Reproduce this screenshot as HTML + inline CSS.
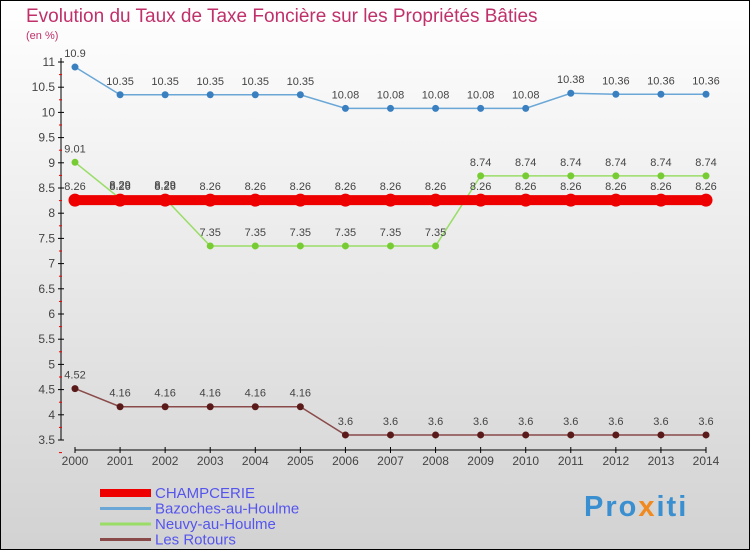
<!DOCTYPE html>
<html><head><meta charset="utf-8"><style>
body{margin:0}
#c{width:750px;height:550px;font-family:"Liberation Sans",sans-serif}
</style></head><body>
<div id="c">
<svg id="s" width="750" height="550" xmlns="http://www.w3.org/2000/svg">
<defs><linearGradient id="bg" x1="0" y1="0" x2="0" y2="1"><stop offset="0" stop-color="#ffffff"/><stop offset="1" stop-color="#d2d2d2"/></linearGradient></defs>
<rect x="0.5" y="0.5" width="749" height="549" fill="url(#bg)" stroke="#000"/>
<text x="26" y="22" font-size="19" fill="#c0306a">Evolution du Taux de Taxe Foncière sur les Propriétés Bâties</text>
<text x="26" y="39" font-size="11" fill="#c0306a">(en %)</text>
<g id="g"></g>
<text x="584" y="516" font-size="29" font-weight="bold" fill="#3a8fd0" letter-spacing="2">Pro<tspan fill="#f08a20">x</tspan>iti</text>
</svg></div>
<script>
const years=[2000,2001,2002,2003,2004,2005,2006,2007,2008,2009,2010,2011,2012,2013,2014];
const champ=[8.26,8.26,8.26,8.26,8.26,8.26,8.26,8.26,8.26,8.26,8.26,8.26,8.26,8.26,8.26];
const bazoches=[10.9,10.35,10.35,10.35,10.35,10.35,10.08,10.08,10.08,10.08,10.08,10.38,10.36,10.36,10.36];
const neuvy=[9.01,8.29,8.29,7.35,7.35,7.35,7.35,7.35,7.35,8.74,8.74,8.74,8.74,8.74,8.74];
const rotours=[4.52,4.16,4.16,4.16,4.16,4.16,3.6,3.6,3.6,3.6,3.6,3.6,3.6,3.6,3.6];
const yTicks=[3.5,4,4.5,5,5.5,6,6.5,7,7.5,8,8.5,9,9.5,10,10.5,11];
const NS="http://www.w3.org/2000/svg",g=document.getElementById('g');
const X=i=>75+i*(631/14), Y=v=>440-(v-3.5)*50.4;
function mk(t,a,name){const e=document.createElementNS(NS,t);for(const k in a)e.setAttribute(k,a[k]);


g.appendChild(e);return e;}
mk('line',{x1:61,y1:58,x2:61,y2:440,stroke:'#000'},'y-axis');
yTicks.forEach(v=>{mk('line',{x1:58,x2:64,y1:Y(v),y2:Y(v),stroke:'#000'},'y-tick');
mk('line',{x1:59,x2:62,y1:Y(v)+12.6,y2:Y(v)+12.6,stroke:'#e00'},'y-minor-tick');
const t=mk('text',{x:55,y:Y(v)+4,'text-anchor':'end','font-size':12,fill:'#444'},'y-tick-label');t.textContent=String(v);});
mk('line',{x1:75,y1:450,x2:706,y2:450,stroke:'#000'},'x-axis');
years.forEach((y,i)=>{mk('line',{x1:X(i),x2:X(i),y1:447,y2:453,stroke:'#000'},'x-tick');
const t=mk('text',{x:X(i),y:465,'text-anchor':'middle','font-size':12,fill:'#444'},'x-tick-label');t.textContent=y;});
function series(d,col,w,r,name,dot){
mk('polyline',{points:d.map((v,i)=>X(i)+','+Y(v)).join(' '),fill:'none',stroke:col,'stroke-width':w},name+'-line');
d.forEach((v,i)=>{mk('circle',{cx:X(i),cy:Y(v),r:r,fill:dot},name+'-point');
const t=mk('text',{x:X(i),y:Y(v)-10,'text-anchor':'middle','font-size':11,fill:'#444'},name+'-value');t.textContent=v;});}
series(bazoches,'#6aa7d6',1.5,3.5,'bazoches','#3a80c0');
series(neuvy,'#99dd66',1.5,3.5,'neuvy','#77cc33');
series(rotours,'#8a4a4a',1.5,3.5,'rotours','#5a1a1a');
series(champ,'#ee0000',10,6.5,'champcerie','#ee0000');
const leg=[['CHAMPCERIE','#ee0000',8],['Bazoches-au-Houlme','#6aa7d6',3],['Neuvy-au-Houlme','#99dd66',3],['Les Rotours','#8a4a4a',3]];
leg.forEach((l,i)=>{const y=493+i*15.5;
mk('line',{x1:100,x2:151,y1:y,y2:y,stroke:l[1],'stroke-width':l[2]},'legend-swatch');
const t=mk('text',{x:155,y:y+5,'font-size':15,fill:'#5555ee'},'legend-entry');t.textContent=l[0];});
</script>
</body></html>
